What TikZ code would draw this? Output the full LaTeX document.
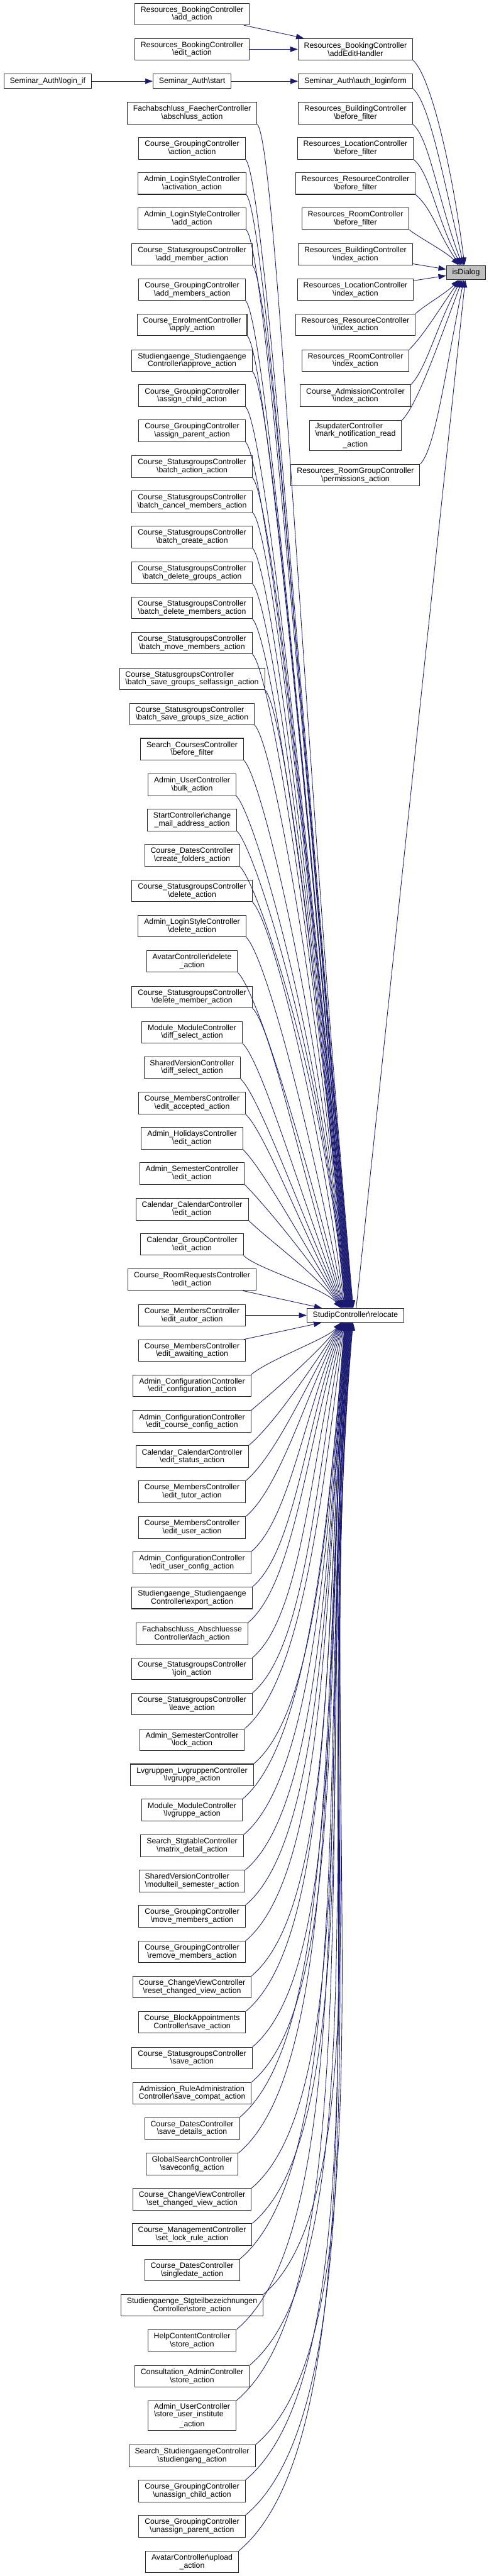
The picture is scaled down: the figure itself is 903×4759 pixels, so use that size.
\documentclass[tikz,border=0pt]{standalone}
\usepackage{fontspec}
\setmainfont{Liberation Sans}
\usetikzlibrary{arrows.meta}
\newcommand\bs{\textbackslash}
\definecolor{edgec}{HTML}{191970}
\definecolor{hilite}{HTML}{BFBFBF}
\begin{document}
% one coordinate unit = one pixel of the reference, drawn at 0.25pt
\begin{tikzpicture}[x=0.25pt,y=-0.25pt,
  fn/.style={draw=black!85, line width=0.3pt, fill=white, font=\fontsize{3.575}{3.675}\selectfont, align=center, inner xsep=2.75pt, inner ysep=0.5pt, minimum height=10pt},
  one/.style={fn, minimum height=6.5pt},
  three/.style={fn, minimum height=13.75pt},
  lft/.style={fn, align=left},
  edge/.style={draw=edgec, line width=0.25pt, -{Triangle[length=3.5pt,width=2.5pt]}}
]
\useasboundingbox (0,0) rectangle (903,4759);
\fill[white] (0,0) rectangle (903,4759);

% ---------- top chain ----------
\node[fn] (rbAdd) at (355,26) {Resources\_BookingController\\\bs add\_action};
\node[fn] (rbEdit) at (355,91) {Resources\_BookingController\\\bs edit\_action};
\node[one] (loginif) at (88,150) {Seminar\_Auth\bs login\_if};
\node[one] (saStart) at (355,150) {Seminar\_Auth\bs start};

% ---------- right column ----------
\node[fn] (R1) at (657,91) {Resources\_BookingController\\\bs addEditHandler};
\node[one] (R2) at (657,150) {Seminar\_Auth\bs auth\_loginform};
\node[fn] (R3) at (657,209) {Resources\_BuildingController\\\bs before\_filter};
\node[fn] (R4) at (657,274) {Resources\_LocationController\\\bs before\_filter};
\node[fn] (R5) at (657,339) {Resources\_ResourceController\\\bs before\_filter};
\node[fn] (R6) at (657,404) {Resources\_RoomController\\\bs before\_filter};
\node[fn] (R7) at (657,470) {Resources\_BuildingController\\\bs index\_action};
\node[fn] (R8) at (657,535) {Resources\_LocationController\\\bs index\_action};
\node[fn] (R9) at (657,600) {Resources\_ResourceController\\\bs index\_action};
\node[fn] (R10) at (657,666) {Resources\_RoomController\\\bs index\_action};
\node[fn] (R11) at (657,731) {Course\_AdmissionController\\\bs index\_action};
\node[three] (R12) at (657,804.5) {\begin{tabular}[b]{@{}l@{}}JsupdaterController\\\bs mark\_notification\_read\end{tabular}\\\_action};
\node[fn] (R13) at (657,878) {Resources\_RoomGroupController\\\bs permissions\_action};

\node[one, fill=hilite] (isDialog) at (861.5,503.5) {isDialog};
\node[one] (relocate) at (657,2430) {StudipController\bs relocate};

% ---------- left column ----------
\node[fn] (L1) at (355,209) {Fachabschluss\_FaecherController\\\bs abschluss\_action};
\node[fn] (L2) at (355,274) {Course\_GroupingController\\\bs action\_action};
\node[fn] (L3) at (355,339) {Admin\_LoginStyleController\\\bs activation\_action};
\node[fn] (L4) at (355,404) {Admin\_LoginStyleController\\\bs add\_action};
\node[fn] (L5) at (355,470) {Course\_StatusgroupsController\\\bs add\_member\_action};
\node[fn] (L6) at (355,535) {Course\_GroupingController\\\bs add\_members\_action};
\node[fn] (L7) at (355,600) {Course\_EnrolmentController\\\bs apply\_action};
\node[fn] (L8) at (355,666) {Studiengaenge\_Studiengaenge\\Controller\bs approve\_action};
\node[fn] (L9) at (355,731) {Course\_GroupingController\\\bs assign\_child\_action};
\node[fn] (L10) at (355,796) {Course\_GroupingController\\\bs assign\_parent\_action};
\node[fn] (L11) at (355,862) {Course\_StatusgroupsController\\\bs batch\_action\_action};
\node[fn] (L12) at (355,927) {Course\_StatusgroupsController\\\bs batch\_cancel\_members\_action};
\node[fn] (L13) at (355,992) {Course\_StatusgroupsController\\\bs batch\_create\_action};
\node[fn] (L14) at (355,1058) {Course\_StatusgroupsController\\\bs batch\_delete\_groups\_action};
\node[fn] (L15) at (355,1123) {Course\_StatusgroupsController\\\bs batch\_delete\_members\_action};
\node[fn] (L16) at (355,1188) {Course\_StatusgroupsController\\\bs batch\_move\_members\_action};
\node[lft] (L17) at (355,1254) {Course\_StatusgroupsController\\\bs batch\_save\_groups\_selfassign\_action};
\node[lft] (L18) at (355,1319) {Course\_StatusgroupsController\\\bs batch\_save\_groups\_size\_action};
\node[fn] (L19) at (355,1384) {Search\_CoursesController\\\bs before\_filter};
\node[fn] (L20) at (355,1450) {Admin\_UserController\\\bs bulk\_action};
\node[fn] (L21) at (355,1515) {StartController\bs change\\\_mail\_address\_action};
\node[fn] (L22) at (355,1580) {Course\_DatesController\\\bs create\_folders\_action};
\node[fn] (L23) at (355,1646) {Course\_StatusgroupsController\\\bs delete\_action};
\node[fn] (L24) at (355,1711) {Admin\_LoginStyleController\\\bs delete\_action};
\node[fn] (L25) at (355,1776) {AvatarController\bs delete\\\_action};
\node[fn] (L26) at (355,1842) {Course\_StatusgroupsController\\\bs delete\_member\_action};
\node[fn] (L27) at (355,1907) {Module\_ModuleController\\\bs diff\_select\_action};
\node[fn] (L28) at (355,1972) {SharedVersionController\\\bs diff\_select\_action};
\node[fn] (L29) at (355,2038) {Course\_MembersController\\\bs edit\_accepted\_action};
\node[fn] (L30) at (355,2103) {Admin\_HolidaysController\\\bs edit\_action};
\node[fn] (L31) at (355,2168) {Admin\_SemesterController\\\bs edit\_action};
\node[fn] (L32) at (355,2234) {Calendar\_CalendarController\\\bs edit\_action};
\node[fn] (L33) at (355,2299) {Calendar\_GroupController\\\bs edit\_action};
\node[fn] (L34) at (355,2364) {Course\_RoomRequestsController\\\bs edit\_action};
\node[fn] (L35) at (355,2430) {Course\_MembersController\\\bs edit\_autor\_action};
\node[fn] (L36) at (355,2495) {Course\_MembersController\\\bs edit\_awaiting\_action};
\node[fn] (L37) at (355,2560) {Admin\_ConfigurationController\\\bs edit\_configuration\_action};
\node[fn] (L38) at (355,2626) {Admin\_ConfigurationController\\\bs edit\_course\_config\_action};
\node[fn] (L39) at (355,2691) {Calendar\_CalendarController\\\bs edit\_status\_action};
\node[fn] (L40) at (355,2756) {Course\_MembersController\\\bs edit\_tutor\_action};
\node[fn] (L41) at (355,2822) {Course\_MembersController\\\bs edit\_user\_action};
\node[fn] (L42) at (355,2887) {Admin\_ConfigurationController\\\bs edit\_user\_config\_action};
\node[fn] (L43) at (355,2952) {Studiengaenge\_Studiengaenge\\Controller\bs export\_action};
\node[fn] (L44) at (355,3018) {Fachabschluss\_Abschluesse\\Controller\bs fach\_action};
\node[fn] (L45) at (355,3083) {Course\_StatusgroupsController\\\bs join\_action};
\node[fn] (L46) at (355,3148) {Course\_StatusgroupsController\\\bs leave\_action};
\node[fn] (L47) at (355,3214) {Admin\_SemesterController\\\bs lock\_action};
\node[fn] (L48) at (355,3279) {Lvgruppen\_LvgruppenController\\\bs lvgruppe\_action};
\node[fn] (L49) at (355,3344) {Module\_ModuleController\\\bs lvgruppe\_action};
\node[fn] (L50) at (355,3410) {Search\_StgtableController\\\bs matrix\_detail\_action};
\node[lft] (L51) at (355,3475) {SharedVersionController\\\bs modulteil\_semester\_action};
\node[fn] (L52) at (355,3540) {Course\_GroupingController\\\bs move\_members\_action};
\node[fn] (L53) at (355,3606) {Course\_GroupingController\\\bs remove\_members\_action};
\node[fn] (L54) at (355,3671) {Course\_ChangeViewController\\\bs reset\_changed\_view\_action};
\node[fn] (L55) at (355,3736) {Course\_BlockAppointments\\Controller\bs save\_action};
\node[fn] (L56) at (355,3802) {Course\_StatusgroupsController\\\bs save\_action};
\node[fn] (L57) at (355,3867) {Admission\_RuleAdministration\\Controller\bs save\_compat\_action};
\node[fn] (L58) at (355,3932) {Course\_DatesController\\\bs save\_details\_action};
\node[fn] (L59) at (355,3998) {GlobalSearchController\\\bs saveconfig\_action};
\node[fn] (L60) at (355,4063) {Course\_ChangeViewController\\\bs set\_changed\_view\_action};
\node[fn] (L61) at (355,4128) {Course\_ManagementController\\\bs set\_lock\_rule\_action};
\node[fn] (L62) at (355,4194) {Course\_DatesController\\\bs singledate\_action};
\node[fn] (L63) at (355,4259) {Studiengaenge\_Stgteilbezeichnungen\\Controller\bs store\_action};
\node[fn] (L64) at (355,4324) {HelpContentController\\\bs store\_action};
\node[fn] (L65) at (355,4390) {Consultation\_AdminController\\\bs store\_action};
\node[three] (L66) at (355,4463) {\begin{tabular}[b]{@{}l@{}}Admin\_UserController\\\bs store\_user\_institute\end{tabular}\\\_action};
\node[fn] (L67) at (355,4537) {Search\_StudiengaengeController\\\bs studiengang\_action};
\node[fn] (L68) at (355,4602) {Course\_GroupingController\\\bs unassign\_child\_action};
\node[fn] (L69) at (355,4667) {Course\_GroupingController\\\bs unassign\_parent\_action};
\node[fn] (L70) at (355,4733) {AvatarController\bs upload\\\_action};

% ---------- straight edges ----------
\draw[edge] (rbAdd) -- (R1);
\draw[edge] (rbEdit) -- (R1);
\draw[edge] (loginif) -- (saStart);
\draw[edge] (saStart) -- (R2);
\draw[edge] (R7) -- (isDialog);
\draw[edge] (R8) -- (isDialog);
\draw[edge] (relocate) -- (isDialog);
\draw[edge] (L34) -- (relocate);
\draw[edge] (L35) -- (relocate);
\draw[edge] (L36) -- (relocate);

% ---------- right column -> isDialog (from above) ----------
\foreach \n/\b in {R1/111, R2/163, R3/229, R4/294, R5/359, R6/424}{
  \pgfmathsetmacro\dy{491-\b}
  \pgfmathsetmacro\od{0.25*min(40,0.3*\dy)}
  \pgfmathsetmacro\id{0.25*0.5*\dy}
  \pgfmathsetmacro\ia{95+45*max(0,1-\dy/400)}
  \pgfmathsetmacro\sh{0.25*(-2-14*(1-\dy/400))}
  \draw[edge] (\n.south east) to[out=-40,in=\ia,out distance=\od pt,in distance=\id pt] ([xshift=\sh pt]isDialog.north);
}
% ---------- right column -> isDialog (from below) ----------
\foreach \n/\t in {R9/580, R10/646, R11/711, R12/777, R13/858}{
  \pgfmathsetmacro\dy{\t-516}
  \pgfmathsetmacro\od{0.25*min(40,0.3*\dy)}
  \pgfmathsetmacro\id{0.25*0.5*\dy}
  \pgfmathsetmacro\ia{-95-45*max(0,1-\dy/400)}
  \pgfmathsetmacro\sh{0.25*(-2-14*(1-\dy/400))}
  \draw[edge] (\n.north east) to[out=45,in=\ia,out distance=\od pt,in distance=\id pt] ([xshift=\sh pt]isDialog.south);
}

% ---------- left column -> relocate (from above) ----------
\foreach \n/\b in {L1/229, L2/294, L3/359, L4/424, L5/490, L6/555, L7/620, L8/686, L9/751, L10/816, L11/882, L12/947, L13/1012, L14/1078, L15/1143, L16/1208, L17/1274, L18/1339, L19/1404, L20/1470, L21/1535, L22/1600, L23/1666, L24/1731, L25/1796, L26/1862, L27/1927, L28/1992, L29/2058, L30/2123, L31/2188, L32/2254, L33/2319}{
  \pgfmathsetmacro\dy{2417-\b}
  \pgfmathsetmacro\od{0.25*min(50,0.35*\dy)}
  \pgfmathsetmacro\id{0.25*0.5*\dy}
  \pgfmathsetmacro\ia{95+40*max(0,1-\dy/800)}
  \pgfmathsetmacro\sh{0.25*(-4-24*(1-\dy/2200))}
  \draw[edge] (\n.south east) to[out=-45,in=\ia,out distance=\od pt,in distance=\id pt] ([xshift=\sh pt]relocate.north);
}
% ---------- left column -> relocate (from below) ----------
\foreach \n/\t in {L37/2540, L38/2606, L39/2671, L40/2736, L41/2802, L42/2867, L43/2932, L44/2998, L45/3063, L46/3128, L47/3194, L48/3259, L49/3324, L50/3390, L51/3455, L52/3520, L53/3586, L54/3651, L55/3716, L56/3782, L57/3847, L58/3912, L59/3978, L60/4043, L61/4108, L62/4174, L63/4239, L64/4304, L65/4370, L66/4435, L67/4517, L68/4582, L69/4647, L70/4713}{
  \pgfmathsetmacro\dy{\t-2443}
  \pgfmathsetmacro\od{0.25*(0.15*\dy+30)}
  \pgfmathsetmacro\id{0.25*0.4*\dy}
  \pgfmathsetmacro\ia{-95-40*max(0,1-\dy/800)}
  \pgfmathsetmacro\sh{0.25*(-4-24*(1-\dy/2300))}
  \draw[edge] (\n.north east) to[out=40,in=\ia,out distance=\od pt,in distance=\id pt] ([xshift=\sh pt]relocate.south);
}
\end{tikzpicture}
\end{document}
